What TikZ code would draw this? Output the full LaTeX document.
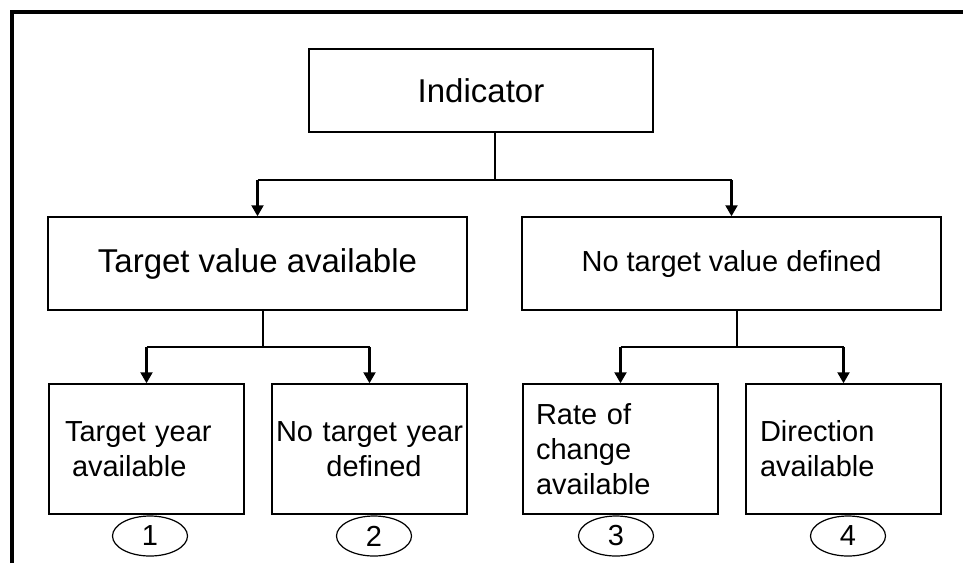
\documentclass[tikz,border=0pt]{standalone}
\usepackage{fontspec}
\setmainfont{Liberation Sans}
\usetikzlibrary{shapes.geometric, arrows.meta}
\newcommand{\fsbig}{\fontsize{33}{40}\selectfont}
\newcommand{\fssmall}{\fontsize{29}{35}\selectfont}
\tikzstyle{box}   = [draw, line width=1.5pt, rectangle, align=center]
\tikzstyle{mid}   = [box, minimum width=419pt, minimum height=93pt]
\tikzstyle{leaf}  = [box, minimum width=195pt, minimum height=130pt, font=\fssmall]
\tikzstyle{num}   = [draw, ellipse, line width=1.2pt, minimum width=75pt, minimum height=40pt, inner sep=0pt, font=\fssmall]
\tikzstyle{edge}  = [line width=1.5pt]
\tikzstyle{arrow} = [line width=2.2pt, -{Triangle[width=12pt,length=11pt]}]

\begin{document}
\begin{tikzpicture}[x=1pt, y=-1pt]
\useasboundingbox (0,0) rectangle (963,563);

% frame
\draw[line width=3.2pt] (12,563) -- (12,12) -- (963,12);

% top level
\node[box, minimum width=344pt, minimum height=83pt, font=\fsbig] (ind) at (481,90.5) {Indicator};

% second level
\node[mid, font=\fsbig]   (tva) at (257.5,263.5) {Target value available};
\node[mid, font=\fssmall] (ntv) at (731.5,263.5) {No target value defined};

% leaves
\node[leaf, align=left, inner xsep=16pt, text width=163pt] (b1) at (146.5,449) {Target year\\\hspace*{7pt}available};
\node[leaf, align=center, inner xsep=1pt, text width=193pt] (b2) at (369.5,449) {No target year\\\hspace*{9pt}defined};
\node[leaf, align=left, inner xsep=13pt, text width=169pt] (b3) at (620.5,449) {Rate of\\change\\available};
\node[leaf, align=left, inner xsep=14pt, text width=167pt] (b4) at (843.5,449) {Direction\\available};

% numbers
\node[num] (n1) at (150,536) {1};
\node[num] (n2) at (374,536) {2};
\node[num] (n3) at (616,536) {3};
\node[num] (n4) at (848,536) {4};

% branch points
\coordinate (j0) at (495,180);
\coordinate (j1) at (263,347);
\coordinate (j2) at (737,347);

% Indicator -> second level
\draw[edge] (ind.south -| j0) -- (j0);
\draw[edge] (j0 -| tva) -- (j0 -| ntv);
\draw[arrow] (j0 -| tva) -- (tva);
\draw[arrow] (j0 -| ntv) -- (ntv);

% Target value available -> leaves
\draw[edge] (tva.south -| j1) -- (j1);
\draw[edge] (j1 -| b1) -- (j1 -| b2);
\draw[arrow] (j1 -| b1) -- (b1);
\draw[arrow] (j1 -| b2) -- (b2);

% No target value defined -> leaves
\draw[edge] (ntv.south -| j2) -- (j2);
\draw[edge] (j2 -| b3) -- (j2 -| b4);
\draw[arrow] (j2 -| b3) -- (b3);
\draw[arrow] (j2 -| b4) -- (b4);

\end{tikzpicture}
\end{document}
